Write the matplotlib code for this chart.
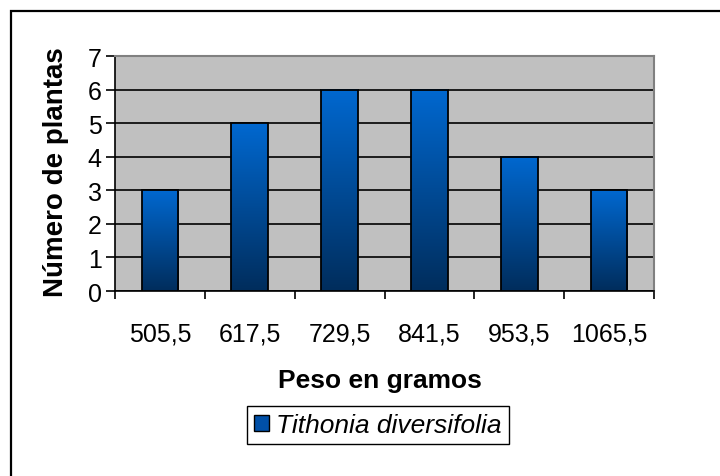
import numpy as np
import matplotlib
matplotlib.use('Agg')
import matplotlib.pyplot as plt
from matplotlib.colors import LinearSegmentedColormap
from matplotlib.patches import Rectangle, Patch

# Data
categories = ['505,5', '617,5', '729,5', '841,5', '953,5', '1065,5']
counts = [3, 5, 6, 6, 4, 3]
series_name = 'Tithonia diversifolia'

plt.rcParams['font.family'] = ['Liberation Sans', 'DejaVu Sans']

fig = plt.figure(figsize=(7.2, 4.77), dpi=100)
ax = fig.add_axes([115 / 720, 1 - 292 / 477, 539 / 720, 235 / 477])
ax.set_facecolor('#C0C0C0')

# outer chart border (cut off on the right and bottom)
fig.patches.append(Rectangle((10.5 / 720, -0.1), 1.2, 1.1 - 11.5 / 477,
                             transform=fig.transFigure, fill=False,
                             edgecolor='black', linewidth=1.6))

x = np.arange(len(categories))
width = 0.41
cmap = LinearSegmentedColormap.from_list('bar', ['#002D5C', '#0068D0'])
grad = np.linspace(0, 1, 256).reshape(-1, 1)

bars = ax.bar(x, counts, width=width, facecolor='none', edgecolor='black',
              linewidth=1.3, zorder=4)
for b in bars:
    x0, h = b.get_x(), b.get_height()
    ax.imshow(grad, cmap=cmap, origin='lower', aspect='auto',
              extent=[x0, x0 + b.get_width(), 0, h], zorder=3)

ax.set_xlim(-0.5, len(categories) - 0.5)
ax.set_ylim(0, 7)

# grid
ax.set_yticks(range(0, 8))
ax.yaxis.grid(True, color='black', linewidth=1.2, zorder=1)
ax.set_axisbelow(True)

# x ticks at category boundaries, labels at centres
ax.set_xticks(np.arange(-0.5, len(categories), 1.0))
ax.set_xticklabels([])
ax.set_xticks(x, minor=True)
ax.set_xticklabels(categories, minor=True)
ax.tick_params(axis='x', which='major', direction='out', length=6, width=1.2)
ax.tick_params(axis='x', which='minor', length=0, pad=22, labelsize=18)
ax.tick_params(axis='y', direction='out', length=6.5, width=1.2, pad=3,
               labelsize=18)

for side in ['left', 'bottom']:
    ax.spines[side].set_color('black')
    ax.spines[side].set_linewidth(1.2)
for side in ['top', 'right']:
    ax.spines[side].set_color('#808080')
    ax.spines[side].set_linewidth(1.5)

ax.set_xlabel('Peso en gramos', fontsize=19, fontweight='bold', va='center')
ax.xaxis.set_label_coords((380 - 115) / 539, (292 - 381) / 235)
ax.set_ylabel('Número de plantas', fontsize=20, fontweight='bold',
              va='center')
ax.yaxis.set_label_coords((56 - 115) / 539, 0.509)

handle = Patch(facecolor='#0050A8', edgecolor='black', linewidth=1)
leg = fig.legend([handle], [series_name], loc='center',
                 bbox_to_anchor=(378 / 720, 1 - 426 / 477),
                 prop={'size': 19, 'style': 'italic'}, fancybox=False,
                 framealpha=1, edgecolor='black', borderpad=0.25,
                 handlelength=0.55, handleheight=0.55, handletextpad=0.3,
                 borderaxespad=0)
leg.get_frame().set_linewidth(1.0)

fig.savefig('out.png', dpi=100)
